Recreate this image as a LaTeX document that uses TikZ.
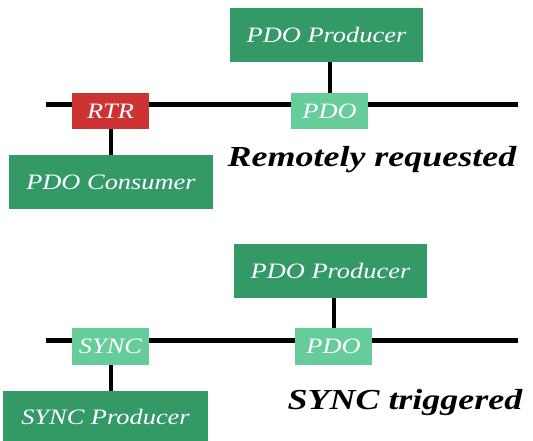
\documentclass[tikz,border=0pt]{standalone}
\usepackage{fontspec}
\usepackage{tikz}
\usetikzlibrary{calc}
\newfontfamily\boxfont[FakeStretch=1.2]{Liberation Serif}
\newfontfamily\capfont[FakeStretch=1.24]{Liberation Serif}
\definecolor{dkgreen}{HTML}{339966}
\definecolor{ltgreen}{HTML}{66CC99}
\definecolor{rtrred}{HTML}{CC3333}
\tikzset{
	box/.style={rectangle, inner sep=0pt, text=white, font=\boxfont\itshape\fontsize{22}{22}\selectfont},
	bigbox/.style={box, fill=dkgreen, minimum height=54pt},
	msg/.style={box, minimum width=77pt, minimum height=36pt},
	caption/.style={font=\capfont\bfseries\itshape\fontsize{29}{29}\selectfont},
	bus/.style={line width=5pt},
	stub/.style={line width=4pt}
}

\begin{document}
\begin{tikzpicture}[x=1pt, y=-1pt]
			%%%%% START %%%%%
			\useasboundingbox (0, 0) rectangle (533, 441);
			
			% remotely requested
			\coordinate (busAL) at (46, 105);
			\coordinate (busAR) at (518, 105);
			\draw[bus] (busAL) -- (busAR);
			
			\node[bigbox, minimum width=193pt] (prodA) at (326.5, 35) {PDO Producer};
			\node[msg, fill=rtrred] (rtr) at (110.5, 111) {RTR};
			\node[msg, fill=ltgreen] (pdoA) at (329.5, 111) {PDO};
			\node[bigbox, minimum width=204pt] (cons) at (111, 182) {PDO Consumer};
			\node[caption] (capA) at (372, 160) {Remotely requested};
			
			\draw[stub] (pdoA.north) -- (pdoA.north |- prodA.south);
			\draw[stub] (rtr.south) -- (rtr.south |- cons.north);
			
			% sync triggered
			\coordinate (busBL) at (46, 340);
			\coordinate (busBR) at (518, 340);
			\draw[bus] (busBL) -- (busBR);
			
			\node[bigbox, minimum width=193pt] (prodB) at (330.5, 271) {PDO Producer};
			\node[msg, fill=ltgreen, minimum height=37pt] (sync) at (110.5, 346.5) {SYNC};
			\node[msg, fill=ltgreen, minimum height=37pt] (pdoB) at (333.5, 346.5) {PDO};
			\node[bigbox, minimum width=205pt, minimum height=52pt] (syncprod) at (105.5, 417) {SYNC Producer};
			\node[caption] (capB) at (405, 403) {SYNC triggered};
			
			\draw[stub] (pdoB.north) -- (pdoB.north |- prodB.south);
			\draw[stub] (sync.south) -- (sync.south |- syncprod.north);
			
			%%%%% END %%%%%
		\end{tikzpicture}
\end{document}
